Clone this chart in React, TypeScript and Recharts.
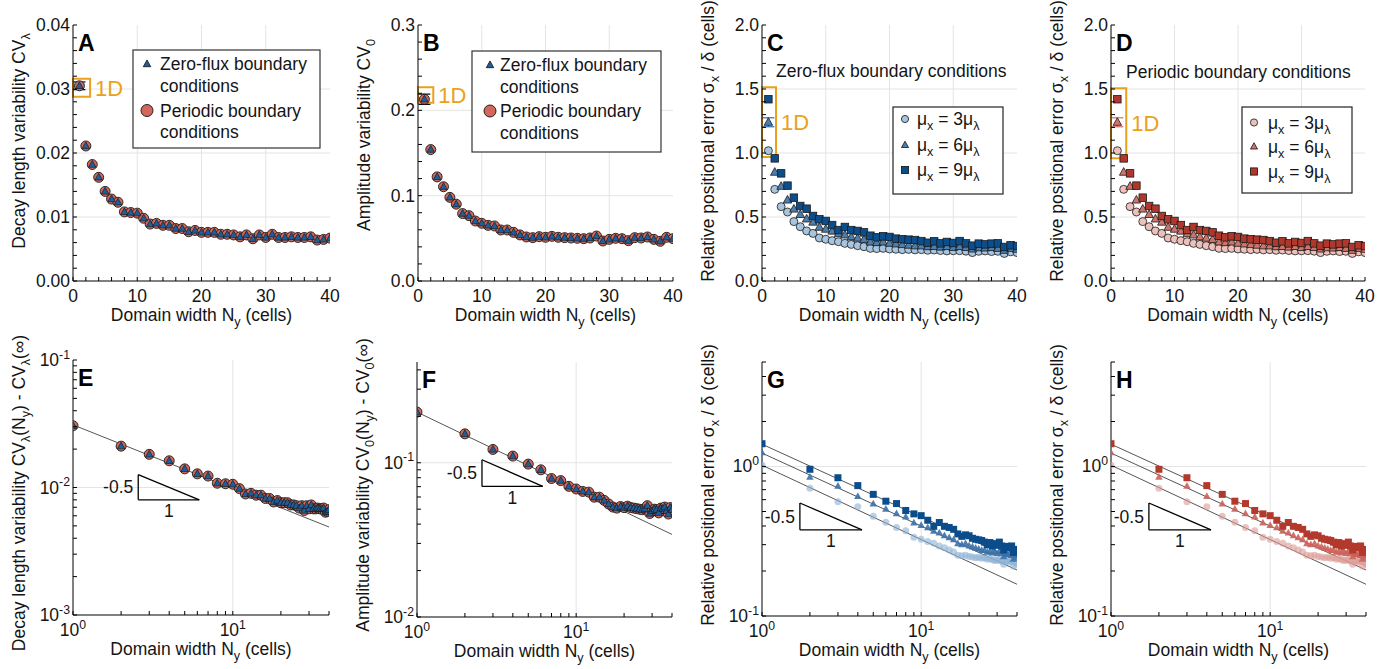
import React from 'react';
import {
  ComposedChart, Scatter, XAxis, YAxis, CartesianGrid, ReferenceLine, ReferenceArea, ErrorBar, Customized,
} from 'recharts';

const FONT = '"Liberation Sans", Arial, Helvetica, sans-serif';
const FS = 17.5;
const ORANGE = '#E9A11B';
const TXT = '#141414';

// ---------------- data ----------------
const domainWidths = [1, 2, 3, 4, 5, 6, 7, 8, 9, 10, 11, 12, 13, 14, 15, 16, 17, 18, 19, 20, 21, 22, 23, 24, 25, 26, 27, 28, 29, 30, 31, 32, 33, 34, 35, 36, 37, 38, 39, 40];

const cvLambdaZeroFlux = [0.0305, 0.0211, 0.0182, 0.0162, 0.0140, 0.0128, 0.0123, 0.0108, 0.0107, 0.0106, 0.0098, 0.0089, 0.0090, 0.0087, 0.0087, 0.0082, 0.0082, 0.0077, 0.0079, 0.0076, 0.0076, 0.0076, 0.0073, 0.0073, 0.0072, 0.0069, 0.0072, 0.0066, 0.0072, 0.0068, 0.0073, 0.0068, 0.0068, 0.0069, 0.0068, 0.0068, 0.0069, 0.0064, 0.0065, 0.0067];
const cvLambdaPeriodic = [0.0305, 0.0211, 0.0182, 0.0162, 0.0140, 0.0128, 0.0123, 0.0108, 0.0107, 0.0106, 0.0098, 0.0089, 0.0090, 0.0087, 0.0087, 0.0082, 0.0082, 0.0077, 0.0079, 0.0076, 0.0076, 0.0076, 0.0073, 0.0073, 0.0072, 0.0069, 0.0072, 0.0066, 0.0072, 0.0068, 0.0073, 0.0068, 0.0068, 0.0069, 0.0068, 0.0068, 0.0069, 0.0064, 0.0065, 0.0067];

const cv0ZeroFlux = [0.213, 0.154, 0.122, 0.1105, 0.098, 0.090, 0.079, 0.0766, 0.0703, 0.0676, 0.0652, 0.0645, 0.0598, 0.0598, 0.057, 0.054, 0.0516, 0.0508, 0.052, 0.0512, 0.0523, 0.0512, 0.0508, 0.0504, 0.050, 0.0496, 0.0504, 0.0527, 0.0469, 0.0488, 0.050, 0.0496, 0.0473, 0.0508, 0.0504, 0.0516, 0.0488, 0.0465, 0.0512, 0.0496];
const cv0Periodic = [0.213, 0.154, 0.122, 0.1105, 0.098, 0.090, 0.079, 0.0766, 0.0703, 0.0676, 0.0652, 0.0645, 0.0598, 0.0598, 0.057, 0.054, 0.0516, 0.0508, 0.052, 0.0512, 0.0523, 0.0512, 0.0508, 0.0504, 0.050, 0.0496, 0.0504, 0.0527, 0.0469, 0.0488, 0.050, 0.0496, 0.0473, 0.0508, 0.0504, 0.0516, 0.0488, 0.0465, 0.0512, 0.0496];

const posErrZeroFlux3 = [1.018, 0.716, 0.581, 0.539, 0.464, 0.424, 0.391, 0.372, 0.336, 0.326, 0.315, 0.307, 0.294, 0.286, 0.276, 0.268, 0.255, 0.253, 0.255, 0.25, 0.248, 0.245, 0.247, 0.243, 0.245, 0.24, 0.242, 0.238, 0.235, 0.236, 0.237, 0.233, 0.222, 0.232, 0.235, 0.23, 0.232, 0.215, 0.228, 0.222];
const posErrZeroFlux6 = [1.24, 0.85, 0.74, 0.633, 0.562, 0.52, 0.485, 0.46, 0.42, 0.405, 0.39, 0.37, 0.36, 0.345, 0.335, 0.325, 0.305, 0.30, 0.305, 0.295, 0.29, 0.285, 0.28, 0.275, 0.275, 0.268, 0.27, 0.265, 0.27, 0.262, 0.27, 0.262, 0.25, 0.26, 0.258, 0.262, 0.255, 0.24, 0.255, 0.248];
const posErrZeroFlux9 = [1.42, 0.958, 0.841, 0.745, 0.651, 0.586, 0.565, 0.508, 0.482, 0.469, 0.437, 0.398, 0.422, 0.398, 0.391, 0.38, 0.354, 0.341, 0.349, 0.344, 0.331, 0.326, 0.323, 0.32, 0.312, 0.299, 0.31, 0.294, 0.305, 0.297, 0.312, 0.294, 0.276, 0.292, 0.286, 0.292, 0.294, 0.266, 0.279, 0.273];

const posErrPeriodic3 = [1.018, 0.716, 0.581, 0.539, 0.464, 0.424, 0.391, 0.372, 0.336, 0.326, 0.315, 0.307, 0.294, 0.286, 0.276, 0.268, 0.255, 0.253, 0.255, 0.25, 0.248, 0.245, 0.247, 0.243, 0.245, 0.24, 0.242, 0.238, 0.235, 0.236, 0.237, 0.233, 0.222, 0.232, 0.235, 0.23, 0.232, 0.215, 0.228, 0.222];
const posErrPeriodic6 = [1.24, 0.85, 0.74, 0.633, 0.562, 0.52, 0.485, 0.46, 0.42, 0.405, 0.39, 0.37, 0.36, 0.345, 0.335, 0.325, 0.305, 0.30, 0.305, 0.295, 0.29, 0.285, 0.28, 0.275, 0.275, 0.268, 0.27, 0.265, 0.27, 0.262, 0.27, 0.262, 0.25, 0.26, 0.258, 0.262, 0.255, 0.24, 0.255, 0.248];
const posErrPeriodic9 = [1.42, 0.958, 0.841, 0.745, 0.651, 0.586, 0.565, 0.508, 0.482, 0.469, 0.437, 0.398, 0.422, 0.398, 0.391, 0.38, 0.354, 0.341, 0.349, 0.344, 0.331, 0.326, 0.323, 0.32, 0.312, 0.299, 0.31, 0.294, 0.305, 0.297, 0.312, 0.294, 0.276, 0.292, 0.286, 0.292, 0.294, 0.266, 0.279, 0.273];

// 1D error bars (half-widths) on the N=1 points
const err1D = { cvLambda: 0.0006, cv0: 0.006, pos6: 0.035 };

// power-law fit endpoints (x = 1 and x = 40)
const fitX = [1, 40];
const fitCvLambda = [0.031, 0.0049];
const fitCv0 = [0.213, 0.0343];
const fitPos3 = [1.02, 0.163];
const fitPos6 = [1.23, 0.203];
const fitPos9 = [1.41, 0.235];

// slope triangles: x (left, right), y (top, bottom)
const slopeXE = [2.56, 6.17];
const slopeYE = [0.0126, 0.008];
const slopeXF = [2.56, 6.17];
const slopeYF = [0.1046, 0.0702];
const slopeXGH = [1.73, 4.25];
const slopeYGH = [0.57, 0.377];

// 1D highlight boxes: x range, y range
const box1DA = { x: [0, 2.66], y: [0.0288, 0.0316] };
const box1DB = { x: [0, 2.4], y: [0.209, 0.227] };
const box1DC = { x: [0, 2.2], y: [0.969, 1.513] };
const box1DD = { x: [0, 2.4], y: [0.959, 1.505] };

// ticks
const linXTicks = [0, 2, 4, 6, 8, 10, 12, 14, 16, 18, 20, 22, 24, 26, 28, 30, 32, 34, 36, 38, 40];
const linXMajors = [0, 10, 20, 30, 40];
const yTicksA = [0, 0.002, 0.004, 0.006, 0.008, 0.01, 0.012, 0.014, 0.016, 0.018, 0.02, 0.022, 0.024, 0.026, 0.028, 0.03, 0.032, 0.034, 0.036, 0.038, 0.04];
const yMajorsA = [0, 0.01, 0.02, 0.03, 0.04];
const yTicksB = [0, 0.02, 0.04, 0.06, 0.08, 0.1, 0.12, 0.14, 0.16, 0.18, 0.2, 0.22, 0.24, 0.26, 0.28, 0.3];
const yMajorsB = [0, 0.1, 0.2, 0.3];
const yTicksC = [0, 0.1, 0.2, 0.3, 0.4, 0.5, 0.6, 0.7, 0.8, 0.9, 1, 1.1, 1.2, 1.3, 1.4, 1.5, 1.6, 1.7, 1.8, 1.9, 2];
const yMajorsC = [0, 0.5, 1, 1.5, 2];
const logXTicks = [1, 2, 3, 4, 5, 6, 7, 8, 9, 10, 20, 30, 40];
const logXMajors = [1, 10];
const yTicksE = [0.001, 0.002, 0.003, 0.004, 0.005, 0.006, 0.007, 0.008, 0.009, 0.01, 0.02, 0.03, 0.04, 0.05, 0.06, 0.07, 0.08, 0.09, 0.1];
const yMajorsE = [0.001, 0.01, 0.1];
const yTicksF = [0.01, 0.02, 0.03, 0.04, 0.05, 0.06, 0.07, 0.08, 0.09, 0.1, 0.2, 0.3, 0.4];
const yMajorsF = [0.01, 0.1];
const yTicksG = [0.1, 0.2, 0.3, 0.4, 0.5, 0.6, 0.7, 0.8, 0.9, 1, 2, 3, 4, 5];
const yMajorsG = [0.1, 1];

// colours
const BLUE_ZF = '#1f5d9b';
const RED_PER = '#d2685c';
const C9 = '#0c4e8c', C6 = '#4c7fae', C3 = '#a9c5de';
const D9 = '#b0372c', D6 = '#cf746b', D3 = '#ecc0bb';
const G9 = '#0b4d8b', G6 = '#3b71a7', G3 = '#8bb0d3';
const H9 = '#b3392d', H6 = '#cc625a', H3 = '#dc9a94';

// ---------------- helpers ----------------
type Seg = string | { sub: string } | { sup: string };

function richSpans(segs: Seg[], fs: number) {
  const out: React.ReactNode[] = [];
  let shift = 0;
  segs.forEach((s, i) => {
    if (typeof s === 'string') {
      out.push(<tspan key={i} dy={-shift} fontSize={fs}>{s}</tspan>);
      shift = 0;
    } else if ('sub' in s) {
      const d = fs * 0.3;
      out.push(<tspan key={i} dy={d - shift} fontSize={fs * 0.72}>{s.sub}</tspan>);
      shift = d;
    } else {
      const d = -fs * 0.42;
      out.push(<tspan key={i} dy={d - shift} fontSize={fs * 0.7}>{s.sup}</tspan>);
      shift = d;
    }
  });
  return out;
}

const pts = (ys: number[]) => domainWidths.map((x, i) => ({ x, y: ys[i] }));
const fitPts = (ys: number[]) => fitX.map((x, i) => ({ x, y: ys[i] }));

function triPath(cx: number, cy: number, s: number) {
  const h = s * 0.9;
  return `M${cx},${cy - h * 0.6}L${cx + s / 2},${cy + h * 0.4}L${cx - s / 2},${cy + h * 0.4}Z`;
}

const mk = (kind: 'c' | 't' | 's', size: number, fill: string, stroke: string | null, op = 1, sw = 0.9) => (p: any) => {
  const { cx, cy } = p;
  if (cx == null || cy == null || isNaN(cx) || isNaN(cy)) return <g />;
  const st = { fill, fillOpacity: op, stroke: stroke ?? 'none', strokeWidth: stroke ? sw : 0 };
  if (kind === 'c') return <circle cx={cx} cy={cy} r={size / 2} {...st} />;
  if (kind === 't') return <path d={triPath(cx, cy, size)} {...st} />;
  return <rect x={cx - size / 2} y={cy - size / 2} width={size} height={size} {...st} />;
};
const empty = () => <g />;

const logFmt = (v: number) => richSpans(['10', { sup: String(Math.round(Math.log10(v))) }], FS);

type Bounds = { pl: number; pt: number; pr: number; pb: number };

function makeTick(side: 'b' | 't' | 'l' | 'r', majors: number[], fmt: ((v: number) => React.ReactNode) | null, b: Bounds) {
  return (props: any) => {
    const v = Number(props.payload?.value);
    const major = majors.some((m) => Math.abs(m - v) <= Math.abs(m) * 1e-6 + 1e-12);
    const len = 4;
    const st = { stroke: '#000', strokeWidth: 1 };
    if (side === 'b' || side === 't') {
      const x = props.x;
      const y0 = side === 'b' ? b.pb : b.pt;
      const y1 = side === 'b' ? y0 - len : y0 + len;
      return (
        <g>
          <line x1={x} x2={x} y1={y0} y2={y1} {...st} />
          {side === 'b' && major && fmt ? (
            <text x={x} y={b.pb + 21} textAnchor="middle" fontSize={FS} fontFamily={FONT} fill={TXT}>{fmt(v)}</text>
          ) : null}
        </g>
      );
    }
    const y = props.y;
    const x0 = side === 'l' ? b.pl : b.pr;
    const x1 = side === 'l' ? x0 + len : x0 - len;
    return (
      <g>
        <line x1={x0} x2={x1} y1={y} y2={y} {...st} />
        {side === 'l' && major && fmt ? (
          <text x={b.pl - 3} y={y + 6} textAnchor="end" fontSize={FS} fontFamily={FONT} fill={TXT}>{fmt(v)}</text>
        ) : null}
      </g>
    );
  };
}

function Ann({ node }: { node: React.ReactNode }) {
  return <>{node}</>;
}

interface AxisSpec { log: boolean; domain: [number, number]; ticks: number[]; majors: number[]; fmt: (v: number) => React.ReactNode; grid: number[] }
interface PanelCfg { pl: number; pt: number; w: number; h: number; divTop: number; x: AxisSpec; y: AxisSpec; yTitle: Seg[]; yTitleCy: number; yTitleFs?: number; letter: string }

const X_TITLE: Seg[] = ['Domain width N', { sub: 'y' }, ' (cells)'];

function renderPanel(key: string, c: PanelCfg, content: React.ReactNode[], overlay: React.ReactNode) {
  const divLeft = c.pl - 73;
  const mt = c.pt - c.divTop;
  const W = 73 + c.w + 16;
  const H = mt + c.h + 50;
  const b: Bounds = { pl: 73, pt: mt, pr: 73 + c.w, pb: mt + c.h };
  const xs = c.x.log ? 'log' : 'linear';
  const ys = c.y.log ? 'log' : 'linear';
  const ytx = c.pl - 48;
  const yfs = c.yTitleFs ?? FS;
  const titles = (
    <g>
      <text x={c.pl + 5} y={c.pt + 26} fontSize={23} fontWeight="bold" fontFamily={FONT} fill="#000">{c.letter}</text>
      <text x={c.pl + c.w / 2} y={c.pt + c.h + 40} textAnchor="middle" fontSize={FS} fontFamily={FONT} fill={TXT}>{richSpans(X_TITLE, FS)}</text>
      <text x={ytx} y={c.yTitleCy} textAnchor="middle" transform={`rotate(-90, ${ytx}, ${c.yTitleCy})`} fontSize={yfs} fontFamily={FONT} fill={TXT}>{richSpans(c.yTitle, yfs)}</text>
    </g>
  );
  return (
    <div key={key} style={{ position: 'absolute', left: divLeft, top: c.divTop, width: W, height: H }}>
      <ComposedChart width={W} height={H} margin={{ top: mt, right: 16, bottom: 0, left: 0 }}>
        <CartesianGrid horizontalValues={c.y.grid} verticalValues={c.x.grid} stroke="#e4e4e4" strokeWidth={1} />
        <XAxis type="number" dataKey="x" scale={xs} domain={c.x.domain} allowDataOverflow ticks={c.x.ticks} interval={0}
          tickLine={false} tickSize={0} tickMargin={0} axisLine={{ stroke: '#000', strokeWidth: 1 }}
          tick={makeTick('b', c.x.majors, c.x.fmt, b)} height={50} />
        <XAxis xAxisId="top" orientation="top" type="number" scale={xs} domain={c.x.domain} allowDataOverflow ticks={c.x.ticks} interval={0}
          tickLine={false} tickSize={0} tickMargin={0} axisLine={{ stroke: '#000', strokeWidth: 1 }}
          tick={makeTick('t', c.x.majors, null, b)} height={0} />
        <YAxis type="number" dataKey="y" scale={ys} domain={c.y.domain} allowDataOverflow ticks={c.y.ticks} interval={0}
          tickLine={false} tickSize={0} tickMargin={0} axisLine={{ stroke: '#000', strokeWidth: 1 }}
          tick={makeTick('l', c.y.majors, c.y.fmt, b)} width={73} />
        <YAxis yAxisId="right" orientation="right" type="number" scale={ys} domain={c.y.domain} allowDataOverflow ticks={c.y.ticks} interval={0}
          tickLine={false} tickSize={0} tickMargin={0} axisLine={{ stroke: '#000', strokeWidth: 1 }}
          tick={makeTick('r', c.y.majors, null, b)} width={0} />
        {content}
        <Customized component={<Ann node={<g transform={`translate(${-divLeft},${-c.divTop})`}>{titles}{overlay}</g>} />} />
      </ComposedChart>
    </div>
  );
}

function slopeTri(key: string, xs: number[], ys: number[]) {
  const lab = { fontSize: FS, fill: TXT, fontFamily: FONT };
  return [
    <ReferenceLine key={key + 'v'} segment={[{ x: xs[0], y: ys[0] }, { x: xs[0], y: ys[1] }]} stroke="#000" strokeWidth={1.3}
      label={{ value: '-0.5', position: 'left', offset: 5, ...lab }} />,
    <ReferenceLine key={key + 'h'} segment={[{ x: xs[0], y: ys[1] }, { x: xs[1], y: ys[1] }]} stroke="#000" strokeWidth={1.3}
      label={{ value: '1', position: 'bottom', offset: 5, ...lab }} />,
    <ReferenceLine key={key + 'd'} segment={[{ x: xs[0], y: ys[0] }, { x: xs[1], y: ys[1] }]} stroke="#000" strokeWidth={1.3} />,
  ];
}

function box1D(key: string, bx: { x: number[]; y: number[] }) {
  return (
    <ReferenceArea key={key} x1={bx.x[0]} x2={bx.x[1]} y1={bx.y[0]} y2={bx.y[1]} fill="none" fillOpacity={0}
      stroke={ORANGE} strokeWidth={2} ifOverflow="visible"
      label={{ value: '1D', position: 'right', offset: 5, fill: ORANGE, fontSize: 22, fontFamily: FONT }} />
  );
}

function errScatter(key: string, y: number, e: number, color: string) {
  return (
    <Scatter key={key} data={[{ x: 1, y, e }]} shape={empty} isAnimationActive={false}>
      <ErrorBar dataKey="e" direction="y" width={6} stroke={color} strokeWidth={1.2} isAnimationActive={false} />
    </Scatter>
  );
}

function LegendAB({ bx, by, bw, bh, mx, tx, ty1, ty2 }: any) {
  const t = { fontSize: FS, fontFamily: FONT, fill: TXT };
  return (
    <g>
      <rect x={bx} y={by} width={bw} height={bh} fill="#fff" stroke="#333" strokeWidth={1.2} />
      <path d={triPath(mx, ty1 - 6, 7.5)} fill={BLUE_ZF} stroke="#111" strokeWidth={0.8} />
      <text x={tx} y={ty1} {...t}>Zero-flux boundary</text>
      <text x={tx} y={ty1 + 21.5} {...t}>conditions</text>
      <circle cx={mx} cy={ty2 - 6} r={6} fill={RED_PER} stroke="#111" strokeWidth={0.9} />
      <text x={tx} y={ty2} {...t}>Periodic boundary</text>
      <text x={tx} y={ty2 + 21.5} {...t}>conditions</text>
    </g>
  );
}

function LegendMu({ bx, by, bw, bh, mx, tx, rows, colors }: any) {
  const t = { fontSize: FS, fontFamily: FONT, fill: TXT };
  const labels = ['3', '6', '9'];
  return (
    <g>
      <rect x={bx} y={by} width={bw} height={bh} fill="#fff" stroke="#222" strokeWidth={1.2} />
      {rows.map((ry: number, i: number) => (
        <g key={i}>
          {i === 0 ? <circle cx={mx} cy={ry} r={3.6} fill={colors[0]} stroke="#111" strokeWidth={0.8} /> : null}
          {i === 1 ? <path d={triPath(mx, ry, 7)} fill={colors[1]} stroke="#111" strokeWidth={0.8} /> : null}
          {i === 2 ? <rect x={mx - 3.6} y={ry - 3.6} width={7.2} height={7.2} fill={colors[2]} stroke="#111" strokeWidth={0.8} /> : null}
          <text x={tx} y={ry + 6} {...t}>{richSpans(['μ', { sub: 'x' }, ` = ${labels[i]}μ`, { sub: 'λ' }], FS)}</text>
        </g>
      ))}
    </g>
  );
}

// ---------------- panels ----------------
const linX: AxisSpec = { log: false, domain: [0, 40], ticks: linXTicks, majors: linXMajors, fmt: (v) => String(v), grid: [10, 20, 30] };
const logX: AxisSpec = { log: true, domain: [1, 40], ticks: logXTicks, majors: logXMajors, fmt: logFmt, grid: [10] };

const POS_TITLE: Seg[] = ['Relative positional error σ', { sub: 'x' }, ' / δ (cells)'];

export default function App() {
  const panelA: PanelCfg = {
    pl: 73, pt: 25, w: 257, h: 256, divTop: 0, letter: 'A', yTitleCy: 141,
    x: linX,
    y: { log: false, domain: [0, 0.04], ticks: yTicksA, majors: yMajorsA, fmt: (v) => v.toFixed(2), grid: [0.01, 0.02, 0.03] },
    yTitle: ['Decay length variability CV', { sub: 'λ' }],
  };
  const panelB: PanelCfg = {
    pl: 418, pt: 25, w: 255, h: 256, divTop: 0, letter: 'B', yTitleCy: 135,
    x: linX,
    y: { log: false, domain: [0, 0.3], ticks: yTicksB, majors: yMajorsB, fmt: (v) => v.toFixed(1), grid: [0.1, 0.2] },
    yTitle: ['Amplitude variability CV', { sub: '0' }],
  };
  const yC: AxisSpec = { log: false, domain: [0, 2], ticks: yTicksC, majors: yMajorsC, fmt: (v) => v.toFixed(1), grid: [0.5, 1, 1.5] };
  const panelC: PanelCfg = { pl: 762, pt: 25, w: 255, h: 256, divTop: 0, letter: 'C', yTitleCy: 141, x: linX, y: yC, yTitle: POS_TITLE };
  const panelD: PanelCfg = { pl: 1111, pt: 25, w: 254, h: 256, divTop: 0, letter: 'D', yTitleCy: 141, x: linX, y: yC, yTitle: POS_TITLE };

  const panelE: PanelCfg = {
    pl: 73, pt: 360, w: 256, h: 255, divTop: 330, letter: 'E', yTitleCy: 493,
    x: logX,
    y: { log: true, domain: [0.001, 0.1], ticks: yTicksE, majors: yMajorsE, fmt: logFmt, grid: [0.01] },
    yTitle: ['Decay length variability CV', { sub: 'λ' }, '(N', { sub: 'y' }, ') - CV', { sub: 'λ' }, '(∞)'],
  };
  const panelF: PanelCfg = {
    pl: 417, pt: 362, w: 255, h: 255, divTop: 330, letter: 'F', yTitleCy: 485,
    x: logX,
    y: { log: true, domain: [0.01, 0.45], ticks: yTicksF, majors: yMajorsF, fmt: logFmt, grid: [0.1] },
    yTitle: ['Amplitude variability CV', { sub: '0' }, '(N', { sub: 'y' }, ') - CV', { sub: '0' }, '(∞)'],
  };
  const yG: AxisSpec = { log: true, domain: [0.1, 5], ticks: yTicksG, majors: yMajorsG, fmt: logFmt, grid: [1] };
  const panelG: PanelCfg = { pl: 762, pt: 362, w: 255, h: 254, divTop: 330, letter: 'G', yTitleCy: 485, x: logX, y: yG, yTitle: POS_TITLE };
  const panelH: PanelCfg = { pl: 1111, pt: 362, w: 255, h: 254, divTop: 330, letter: 'H', yTitleCy: 485, x: logX, y: yG, yTitle: POS_TITLE };

  const edge = '#1a1a1a';
  const titleText = { fontSize: FS, fontFamily: FONT, fill: TXT };

  return (
    <div style={{ position: 'absolute', left: 0, top: 0, width: 1395, height: 669, background: '#fff', overflow: 'hidden' }}>
      {renderPanel('A', panelA, [
        errScatter('ea', cvLambdaZeroFlux[0], err1D.cvLambda, '#000'),
        <Scatter key="ap" data={pts(cvLambdaPeriodic)} shape={mk('c', 10, RED_PER, edge)} isAnimationActive={false} />,
        <Scatter key="az" data={pts(cvLambdaZeroFlux)} shape={mk('t', 7.5, BLUE_ZF, edge, 1, 0.7)} isAnimationActive={false} />,
        box1D('ba', box1DA),
      ], <LegendAB bx={133} by={50} bw={187} bh={98} mx={147} tx={160} ty1={70} ty2={116.5} />)}

      {renderPanel('B', panelB, [
        errScatter('eb', cv0ZeroFlux[0], err1D.cv0, '#000'),
        <Scatter key="bp" data={pts(cv0Periodic)} shape={mk('c', 10, RED_PER, edge)} isAnimationActive={false} />,
        <Scatter key="bz" data={pts(cv0ZeroFlux)} shape={mk('t', 7.5, BLUE_ZF, edge, 1, 0.7)} isAnimationActive={false} />,
        box1D('bb', box1DB),
      ], <LegendAB bx={472} by={51} bw={189} bh={101} mx={490} tx={500} ty1={71} ty2={117} />)}

      {renderPanel('C', panelC, [
        errScatter('ec', posErrZeroFlux6[0], err1D.pos6, '#2f6fb0'),
        <Scatter key="c3" data={pts(posErrZeroFlux3)} shape={mk('c', 8, C3, edge, 1, 0.8)} isAnimationActive={false} />,
        <Scatter key="c6" data={pts(posErrZeroFlux6)} shape={mk('t', 8.5, C6, edge, 1, 0.8)} isAnimationActive={false} />,
        <Scatter key="c9" data={pts(posErrZeroFlux9)} shape={mk('s', 7.5, C9, edge, 1, 0.8)} isAnimationActive={false} />,
        box1D('bc', box1DC),
      ], <g>
        <text x={776} y={77} {...titleText}>Zero-flux boundary conditions</text>
        <LegendMu bx={893} by={107} bw={110} bh={87} mx={905} tx={917} rows={[119, 145, 170]} colors={[C3, C6, C9]} />
      </g>)}

      {renderPanel('D', panelD, [
        errScatter('ed', posErrPeriodic6[0], err1D.pos6, '#d46a6a'),
        <Scatter key="d3" data={pts(posErrPeriodic3)} shape={mk('c', 8, D3, edge, 1, 0.8)} isAnimationActive={false} />,
        <Scatter key="d6" data={pts(posErrPeriodic6)} shape={mk('t', 8.5, D6, edge, 1, 0.8)} isAnimationActive={false} />,
        <Scatter key="d9" data={pts(posErrPeriodic9)} shape={mk('s', 7.5, D9, edge, 1, 0.8)} isAnimationActive={false} />,
        box1D('bd', box1DD),
      ], <g>
        <text x={1126} y={78} {...titleText}>Periodic boundary conditions</text>
        <LegendMu bx={1242} by={107} bw={110} bh={86} mx={1254} tx={1268} rows={[122.5, 146.5, 171.5]} colors={[D3, D6, D9]} />
      </g>)}

      {renderPanel('E', panelE, [
        <Scatter key="ef" data={fitPts(fitCvLambda)} shape={empty} line={{ stroke: '#555', strokeWidth: 1 }} isAnimationActive={false} />,
        <Scatter key="ep" data={pts(cvLambdaPeriodic)} shape={mk('c', 10, RED_PER, edge)} isAnimationActive={false} />,
        <Scatter key="ez" data={pts(cvLambdaZeroFlux)} shape={mk('t', 7.5, BLUE_ZF, edge, 1, 0.7)} isAnimationActive={false} />,
        ...slopeTri('te', slopeXE, slopeYE),
      ], null)}

      {renderPanel('F', panelF, [
        <Scatter key="ff" data={fitPts(fitCv0)} shape={empty} line={{ stroke: '#555', strokeWidth: 1 }} isAnimationActive={false} />,
        <Scatter key="fp" data={pts(cv0Periodic)} shape={mk('c', 10, RED_PER, edge)} isAnimationActive={false} />,
        <Scatter key="fz" data={pts(cv0ZeroFlux)} shape={mk('t', 7.5, BLUE_ZF, edge, 1, 0.7)} isAnimationActive={false} />,
        ...slopeTri('tf', slopeXF, slopeYF),
      ], null)}

      {renderPanel('G', panelG, [
        <Scatter key="gf3" data={fitPts(fitPos3)} shape={empty} line={{ stroke: '#555', strokeWidth: 1 }} isAnimationActive={false} />,
        <Scatter key="gf6" data={fitPts(fitPos6)} shape={empty} line={{ stroke: '#555', strokeWidth: 1 }} isAnimationActive={false} />,
        <Scatter key="gf9" data={fitPts(fitPos9)} shape={empty} line={{ stroke: '#555', strokeWidth: 1 }} isAnimationActive={false} />,
        <Scatter key="g3" data={pts(posErrZeroFlux3)} shape={mk('c', 7, G3, null, 0.6)} isAnimationActive={false} />,
        <Scatter key="g6" data={pts(posErrZeroFlux6)} shape={mk('t', 7.5, G6, null, 0.9)} isAnimationActive={false} />,
        <Scatter key="g9" data={pts(posErrZeroFlux9)} shape={mk('s', 7, G9, null)} isAnimationActive={false} />,
        ...slopeTri('tg', slopeXGH, slopeYGH),
      ], null)}

      {renderPanel('H', panelH, [
        <Scatter key="hf3" data={fitPts(fitPos3)} shape={empty} line={{ stroke: '#555', strokeWidth: 1 }} isAnimationActive={false} />,
        <Scatter key="hf6" data={fitPts(fitPos6)} shape={empty} line={{ stroke: '#555', strokeWidth: 1 }} isAnimationActive={false} />,
        <Scatter key="hf9" data={fitPts(fitPos9)} shape={empty} line={{ stroke: '#555', strokeWidth: 1 }} isAnimationActive={false} />,
        <Scatter key="h3" data={pts(posErrPeriodic3)} shape={mk('c', 7, H3, null, 0.6)} isAnimationActive={false} />,
        <Scatter key="h6" data={pts(posErrPeriodic6)} shape={mk('t', 7.5, H6, null, 0.9)} isAnimationActive={false} />,
        <Scatter key="h9" data={pts(posErrPeriodic9)} shape={mk('s', 7, H9, null)} isAnimationActive={false} />,
        ...slopeTri('th', slopeXGH, slopeYGH),
      ], null)}
    </div>
  );
}
